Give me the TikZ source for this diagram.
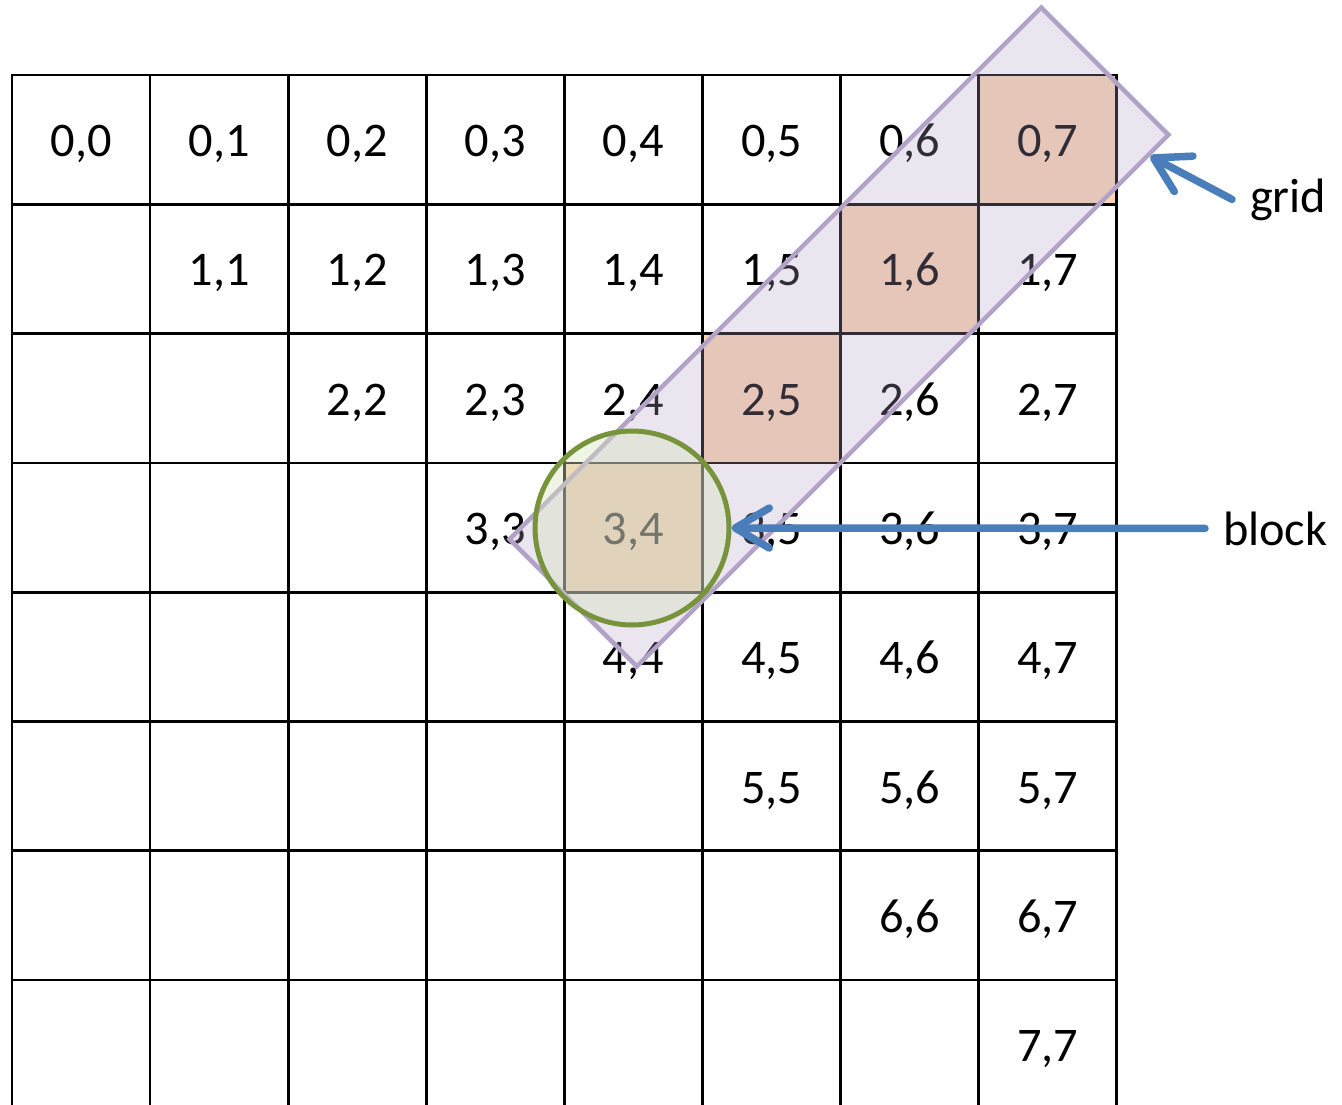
\documentclass[tikz,border=0pt]{standalone}
\usepackage{fontspec}
\setmainfont{Carlito}
\usepackage{xcolor}
\usepackage{tikz}
\usetikzlibrary{arrows.meta,calc}

\definecolor{peach}{HTML}{FCD5B5}
\definecolor{lilac}{HTML}{B3A2C7}
\definecolor{olive}{HTML}{77933C}
\definecolor{olivefill}{HTML}{D7E4BD}
\definecolor{pointer}{HTML}{4A7EBB}

\begin{document}
\begin{tikzpicture}[
  x=0.02cm,y=-0.02cm,
  font=\fontsize{27.5}{33}\selectfont,
  gridline/.style={line width=0.055cm,black,line cap=rect},
  lbl/.style={anchor=base,inner sep=0pt},
  hot/.style={fill=peach},
  band/.style={rectangle,draw=lilac,line width=0.09cm,fill=lilac,fill opacity=0.28,
               rotate=45,minimum width=15.04cm,minimum height=3.6cm,inner sep=0pt},
  ring/.style={circle,draw=olive,line width=0.1cm,fill=olivefill,fill opacity=0.4,
               minimum size=3.88cm,inner sep=0pt},
  callout/.style={anchor=base west,inner sep=0pt,outer sep=0pt},
  arr/.style={draw=pointer,line width=0.15cm,line cap=round,
              -{Straight Barb[length=0.68cm,width=0.8cm,line cap=round,round]}}
]
\useasboundingbox (0,0) rectangle (1342,1105);
\def\W{138.1}
\def\H{129.3}
% ---- shaded cells on the anti-diagonal ----
\foreach \i in {0,...,3}
  \fill[hot] ({12+(7-\i)*\W},{75+\i*\H}) rectangle ++(\W,\H);

% ---- the grid ----
\foreach \k in {0,...,7}
  \draw[gridline] (12,{75+\k*\H}) -- (1117,{75+\k*\H});
\foreach \k in {0,...,8}
  \draw[gridline] ({12+\k*\W},75) -- ({12+\k*\W},1105);

% ---- cell labels, upper triangle ----
\foreach \i in {0,...,7}
  \foreach \j in {\i,...,7}
    \node[lbl] (c\i\j) at ({12+(\j+0.5)*\W},{75+(\i+0.5)*\H+17}) {\i,\j};

% ---- grid band and block circle ----
\node[band] (grid) at (839,337) {};
\node[ring] (block) at (632,528) {};

% ---- callouts ----
\node[callout] (lgrid) at (1250,212) {grid};
\node[callout] (lblock) at (1223,545) {block};
\draw[arr] ([xshift=-0.36cm]lgrid.west) -- ($(grid.south east)!0.04!(grid.south west)$);
\draw[arr] ([xshift=-0.36cm]lblock.west) -- (block.east);
\end{tikzpicture}
\end{document}
